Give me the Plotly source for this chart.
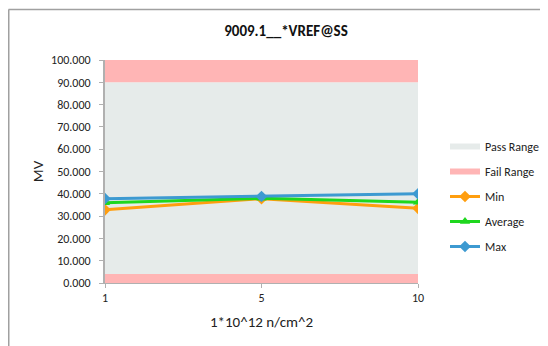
import plotly.graph_objects as go

categories = ["1", "5", "10"]
fail_low = [4, 4, 4]
pass_band = [86, 86, 86]
fail_high = [10, 10, 10]
min_vals = [32.8, 37.8, 33.5]
avg_vals = [36.0, 38.0, 36.2]
max_vals = [37.8, 38.8, 40.0]

FONT = "Calibri, Carlito, Lato, sans-serif"
PASS_C = "#E6EBEA"
FAIL_C = "#FFB5B5"

# page offset of the figure (browser default body margin)
OFF = 8
W, H = 548 - OFF, 346 - OFF
PL, PR, PT, PB = 105 - OFF, 418 - OFF, 60 - OFF, 283 - OFF
PW, PH = PR - PL, PB - PT

fig = go.Figure()
fig.add_trace(go.Scatter(x=categories, y=fail_low, stackgroup="band", mode="none",
                         fillcolor=FAIL_C, name="Fail Range", legendrank=2, legendgroup="f"))
fig.add_trace(go.Scatter(x=categories, y=pass_band, stackgroup="band", mode="none",
                         fillcolor=PASS_C, name="Pass Range", legendrank=1, legendgroup="p"))
fig.add_trace(go.Scatter(x=categories, y=fail_high, stackgroup="band", mode="none",
                         fillcolor=FAIL_C, name="Fail Range", showlegend=False, legendgroup="f"))
fig.add_trace(go.Scatter(x=categories, y=min_vals, mode="lines+markers", name="Min",
                         line=dict(color="#FF9E0F", width=3),
                         marker=dict(symbol="diamond", size=9, color="#FF9E0F"),
                         legendrank=3, legendgroup="mn"))
fig.add_trace(go.Scatter(x=categories, y=avg_vals, mode="lines+markers", name="Average",
                         line=dict(color="#1ED71E", width=3),
                         marker=dict(symbol="triangle-up", size=9, color="#1ED71E"),
                         legendrank=4, legendgroup="av"))
fig.add_trace(go.Scatter(x=categories, y=max_vals, mode="lines+markers", name="Max",
                         line=dict(color="#3D9AD1", width=3),
                         marker=dict(symbol="diamond", size=9, color="#3D9AD1"),
                         legendrank=5, legendgroup="mx"))

fig.update_layout(
    width=W, height=H,
    margin=dict(l=PL, r=W - PR, t=PT, b=H - PB, autoexpand=False),
    paper_bgcolor="white", plot_bgcolor="white",
    font=dict(family=FONT, size=12, color="#222"),
    title=dict(text="<b>9009.1__*VREF@SS</b>", x=(286 - OFF) / W, xanchor="center",
               y=1 - (31 - OFF) / H, yanchor="middle", font=dict(size=15, family=FONT, color="#111")),
    showlegend=True,
    legend=dict(x=(445 - OFF - PL) / PW, xanchor="left", y=(PB - (132 - OFF)) / PH, yanchor="top",
                traceorder="grouped", tracegroupgap=6,
                font=dict(size=12, family=FONT), bgcolor="rgba(0,0,0,0)", itemwidth=30),
    xaxis=dict(type="category", range=[0, 2], showgrid=False, zeroline=False,
               showline=True, linecolor="#B0B0B0", linewidth=1,
               ticks="outside", ticklen=4, tickcolor="#B0B0B0",
               tickfont=dict(size=12, family=FONT),
               title=dict(text="1*10^12 n/cm^2", font=dict(size=15, family=FONT), standoff=12)),
    yaxis=dict(range=[0, 100], dtick=10, tickformat=".3f", showgrid=False, zeroline=False,
               showline=True, linecolor="#B0B0B0", linewidth=2,
               ticks="outside", ticklen=4, tickcolor="#B0B0B0", ticklabelstandoff=6,
               tickfont=dict(size=12, family=FONT),
               title=dict(text="MV", font=dict(size=15, family=FONT), standoff=4)),
    shapes=[
        dict(type="line", xref="paper", yref="paper", x0=(0.5 - PL) / PW, x1=(W - PL) / PW,
             y0=(PB - 1.5) / PH, y1=(PB - 1.5) / PH, line=dict(color="#A0A0A0", width=1.5)),
        dict(type="line", xref="paper", yref="paper", x0=(0.75 - PL) / PW, x1=(0.75 - PL) / PW,
             y0=(PB - 1.5) / PH, y1=(PB - H) / PH, line=dict(color="#A0A0A0", width=1.5)),
    ],
)

fig.write_html("out.html")
